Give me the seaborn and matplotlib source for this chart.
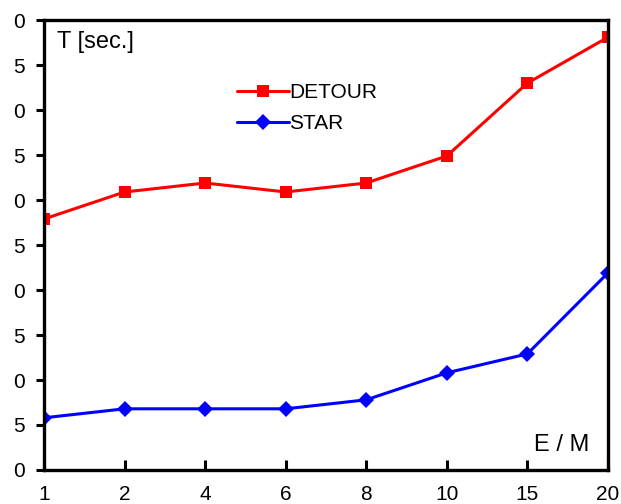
import matplotlib
matplotlib.use('Agg')
import matplotlib.pyplot as plt
import numpy as np
import pandas as pd
import seaborn as sns

# data
em_labels = ['1', '2', '4', '6', '8', '10', '15', '20']
detour = [27.9, 30.9, 31.9, 30.9, 31.9, 34.9, 43.0, 48.1]
star = [5.8, 6.8, 6.8, 6.8, 7.8, 10.8, 12.9, 21.9]
y_ticks = [0, 5, 10, 15, 20, 25, 30, 35, 40, 45, 50]
y_tick_labels = ['0', '5', '0', '5', '0', '5', '0', '5', '0', '5', '0']

pos = np.arange(len(em_labels))
df = pd.DataFrame({
    'pos': np.concatenate([pos, pos]),
    'T': detour + star,
    'series': ['DETOUR'] * len(pos) + ['STAR'] * len(pos),
})

sns.set_style('ticks')
plt.rcParams['font.family'] = ['Liberation Sans', 'DejaVu Sans']
plt.rcParams['text.color'] = 'black'
plt.rcParams['xtick.color'] = 'black'
plt.rcParams['ytick.color'] = 'black'

fig = plt.figure(figsize=(6.21, 5.04), dpi=100)
ax = fig.add_axes([0.0709, 0.0675, 0.908, 0.8925])

sns.lineplot(data=df, x='pos', y='T', hue='series', style='series',
             palette={'DETOUR': '#ff0000', 'STAR': '#0000ff'},
             markers={'DETOUR': 's', 'STAR': 'D'}, dashes=False,
             markersize=9, markeredgewidth=0, linewidth=2.2, ax=ax)
# diamonds are a bit smaller than the squares
for line in ax.lines:
    if line.get_color() == '#0000ff':
        line.set_markersize(8)

ax.set_xlim(0, len(em_labels) - 1)
ax.set_ylim(0, 50)
ax.set_xticks(pos)
ax.set_xticklabels(em_labels)
ax.set_yticks(y_ticks)
ax.set_yticklabels(y_tick_labels)
ax.set_xlabel('')
ax.set_ylabel('')

for s in ax.spines.values():
    s.set_visible(True)
    s.set_linewidth(2.4)
    s.set_color('black')

ax.tick_params(axis='x', direction='in', length=7, width=2.2, labelsize=15, pad=11)
ax.tick_params(axis='y', direction='out', length=6, width=2.2, labelsize=15, pad=8)

ax.text(0.023, 0.975, 'T [sec.]', transform=ax.transAxes, fontsize=17,
        ha='left', va='top')
ax.text(0.968, 0.03, 'E / M', transform=ax.transAxes, fontsize=17,
        ha='right', va='bottom')

handles, labels = ax.get_legend_handles_labels()
ax.legend(handles, labels, loc='upper left', bbox_to_anchor=(0.328, 0.879),
          frameon=False, fontsize=15, handlelength=2.5, handletextpad=0.0,
          labelspacing=0.6, borderaxespad=0.0)

fig.savefig('out.png', dpi=100)
